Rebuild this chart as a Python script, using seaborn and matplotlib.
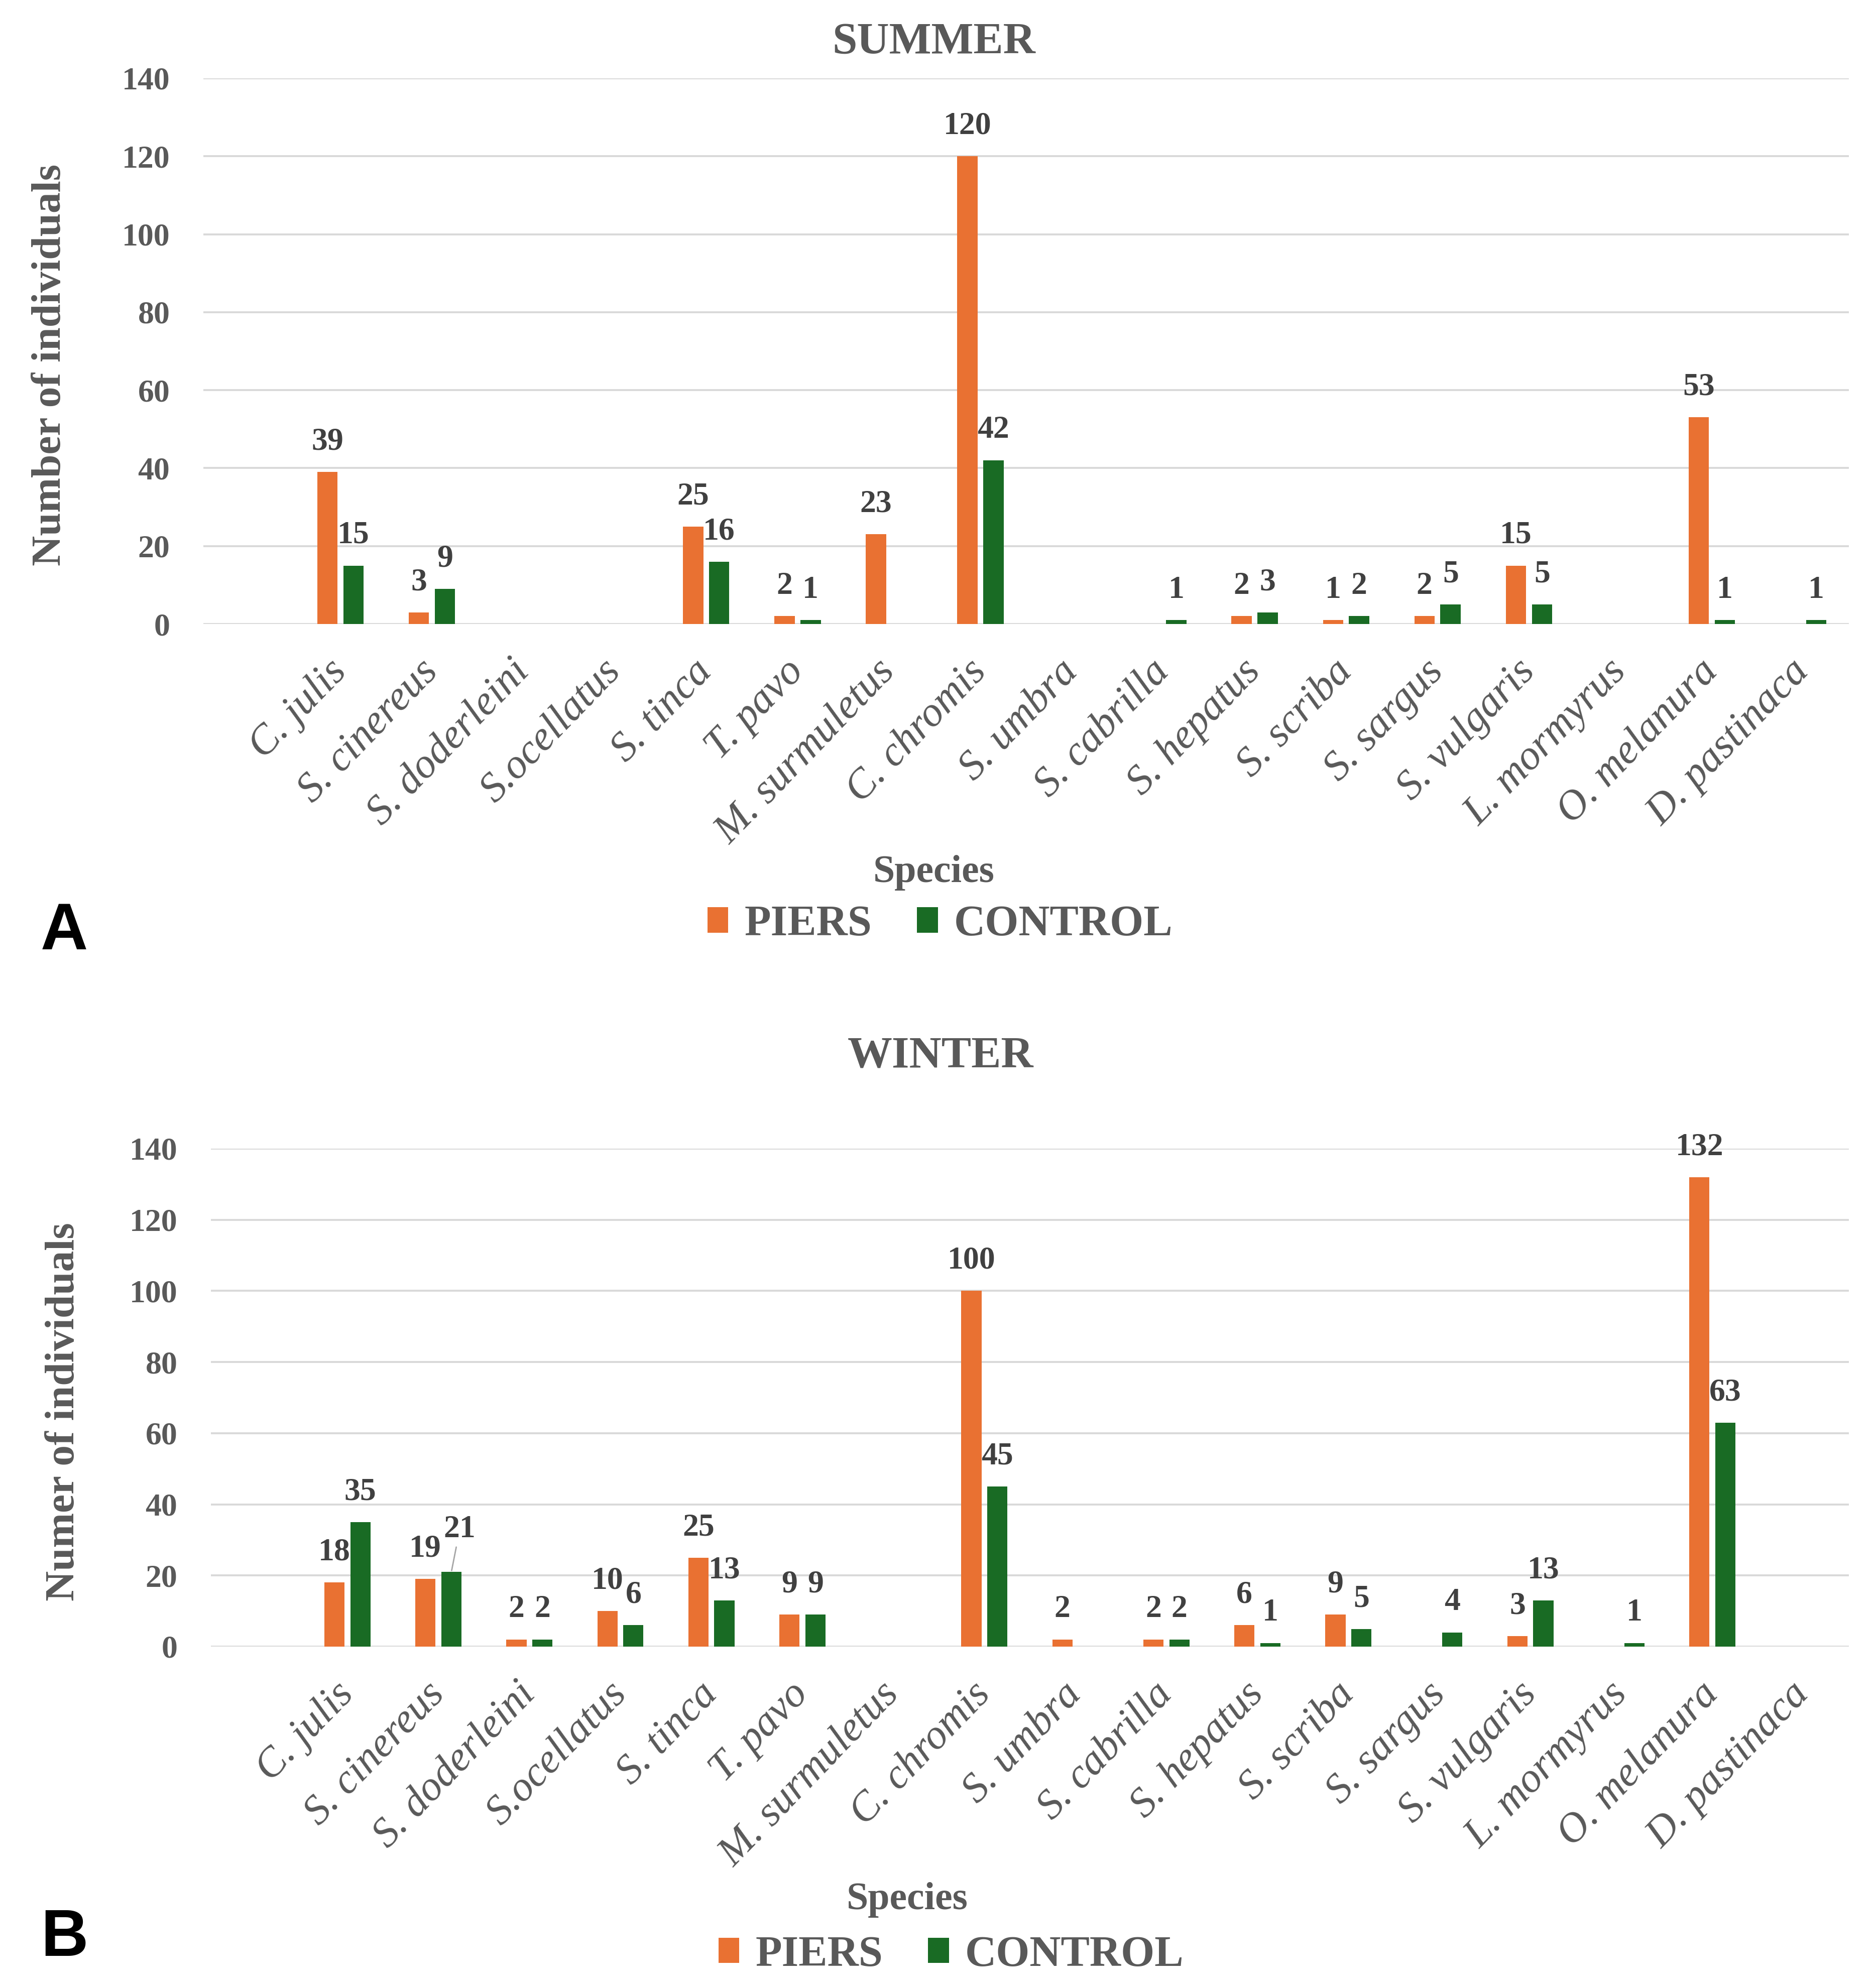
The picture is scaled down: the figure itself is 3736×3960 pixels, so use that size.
import numpy as np
import pandas as pd
import matplotlib
matplotlib.use("Agg")
import matplotlib.pyplot as plt
import seaborn as sns

species = ["C. julis", "S. cinereus", "S. doderleini", "S.ocellatus", "S. tinca",
           "T. pavo", "M. surmuletus", "C. chromis", "S. umbra", "S. cabrilla",
           "S. hepatus", "S. scriba", "S. sargus", "S. vulgaris", "L. mormyrus",
           "O. melanura", "D. pastinaca"]

summer_piers = [39, 3, 0, 0, 25, 2, 23, 120, 0, 0, 2, 1, 2, 15, 0, 53, 0]
summer_control = [15, 9, 0, 0, 16, 1, 0, 42, 0, 1, 3, 2, 5, 5, 0, 1, 1]
winter_piers = [18, 19, 2, 10, 25, 9, 0, 100, 2, 2, 6, 9, 0, 3, 0, 132, 0]
winter_control = [35, 21, 2, 6, 13, 9, 0, 45, 0, 2, 1, 5, 4, 13, 1, 63, 0]

sites = ["PIERS", "CONTROL"]
colors = {"PIERS": "#E97132", "CONTROL": "#196B24"}
yticks = [0, 20, 40, 60, 80, 100, 120, 140]

GRAY = "#595959"
DARK = "#404040"

sns.set_theme(style="white")
plt.rcParams["font.family"] = ["Liberation Serif", "DejaVu Serif"]


def long_frame(piers, control):
    df = pd.DataFrame({"species": species, "PIERS": piers, "CONTROL": control})
    return df.melt(id_vars="species", var_name="site", value_name="count")


def draw_panel(ax, piers, control, raised=None):
    df = long_frame(piers, control)
    sns.barplot(data=df, x="species", y="count", hue="site", hue_order=sites,
                palette=colors, saturation=1, width=0.57, gap=0.22,
                linewidth=0, legend=True, ax=ax)
    ax.set_xlim(-1.5, len(species) - 0.5)
    ax.set_ylim(0, 140)
    ax.set_yticks(yticks)
    ax.yaxis.grid(True, color="#D9D9D9", linewidth=1.4)
    ax.xaxis.grid(False)
    ax.set_axisbelow(True)
    sns.despine(ax=ax, left=True, bottom=True)
    ax.set_xlabel("")
    ax.set_ylabel("")
    ax.tick_params(axis="y", length=0, pad=24, labelsize=23, labelcolor=GRAY)
    ax.tick_params(axis="x", length=0, pad=30)
    for lab in ax.get_yticklabels():
        lab.set_fontweight("bold")
    ax.set_xticks(range(len(species)))
    ax.set_xticklabels(species, rotation=46, ha="right", va="center",
                       rotation_mode="anchor", fontsize=30, style="italic",
                       color=GRAY)

    # data labels, blank where there were no fish
    for cont, vals, name in zip(ax.containers, [piers, control], sites):
        labels = []
        for i, v in enumerate(vals):
            if v == 0 or (raised and (name, i) in raised):
                labels.append("")
            else:
                labels.append(str(v))
        ax.bar_label(cont, labels=labels, padding=11, fontsize=23,
                     fontweight="bold", color=DARK)
    if raised:
        for (name, i) in raised:
            cont = ax.containers[sites.index(name)]
            bar = cont[i]
            xc = bar.get_x() + bar.get_width() / 2
            h = bar.get_height()
            ax.annotate(str(int(h)), xy=(xc, h), xytext=(6, 20),
                        textcoords="offset points", ha="center", va="bottom",
                        fontsize=23, fontweight="bold", color=DARK,
                        arrowprops=dict(arrowstyle="-", color="#A6A6A6",
                                        lw=1.0, shrinkA=0, shrinkB=1))


W, H = 3736, 3960
fig = plt.figure(figsize=(W / 200, H / 200), dpi=200)

ax1 = fig.add_axes([405 / W, 1 - 1243 / H, 3277 / W, 1087 / H])
draw_panel(ax1, summer_piers, summer_control)

ax2 = fig.add_axes([420 / W, 1 - 3280 / H, 3262 / W, 992 / H])
draw_panel(ax2, winter_piers, winter_control, raised={("CONTROL", 1)})

for ax, (lx, ly) in zip([ax1, ax2], [(0.5011, 0.5348), (0.5070, 0.0164)]):
    sns.move_legend(ax, "center", bbox_to_anchor=(lx, ly),
                    bbox_transform=fig.transFigure, ncol=2, frameon=False,
                    title=None, labelcolor=GRAY,
                    prop={"size": 31, "weight": "bold"},
                    handlelength=0.48, handleheight=0.53, handletextpad=0.37,
                    columnspacing=1.05)

fig.text(0.4979, 0.9788, "SUMMER", ha="center", va="center", fontsize=32,
         fontweight="bold", color=GRAY)
fig.text(0.5013, 0.4687, "WINTER", ha="center", va="center", fontsize=32,
         fontweight="bold", color=GRAY)

fig.text(0.0270, 0.8164, "Number of individuals", rotation=90, ha="center",
         va="center", fontsize=30, fontweight="bold", color=GRAY)
fig.text(0.0340, 0.2899, "Numer of individuals", rotation=90, ha="center",
         va="center", fontsize=30, fontweight="bold", color=GRAY)

fig.text(0.4979, 0.5609, "Species", ha="center", va="center", fontsize=28,
         fontweight="bold", color=GRAY)
fig.text(0.4837, 0.0444, "Species", ha="center", va="center", fontsize=28,
         fontweight="bold", color=GRAY)

fig.text(0.0343, 0.5313, "A", ha="center", va="center", fontsize=47,
         fontweight="bold", color="black", family=["Liberation Sans", "DejaVu Sans"])
fig.text(0.0343, 0.0250, "B", ha="center", va="center", fontsize=47,
         fontweight="bold", color="black", family=["Liberation Sans", "DejaVu Sans"])

fig.savefig("out.png", dpi=200, facecolor="white")
